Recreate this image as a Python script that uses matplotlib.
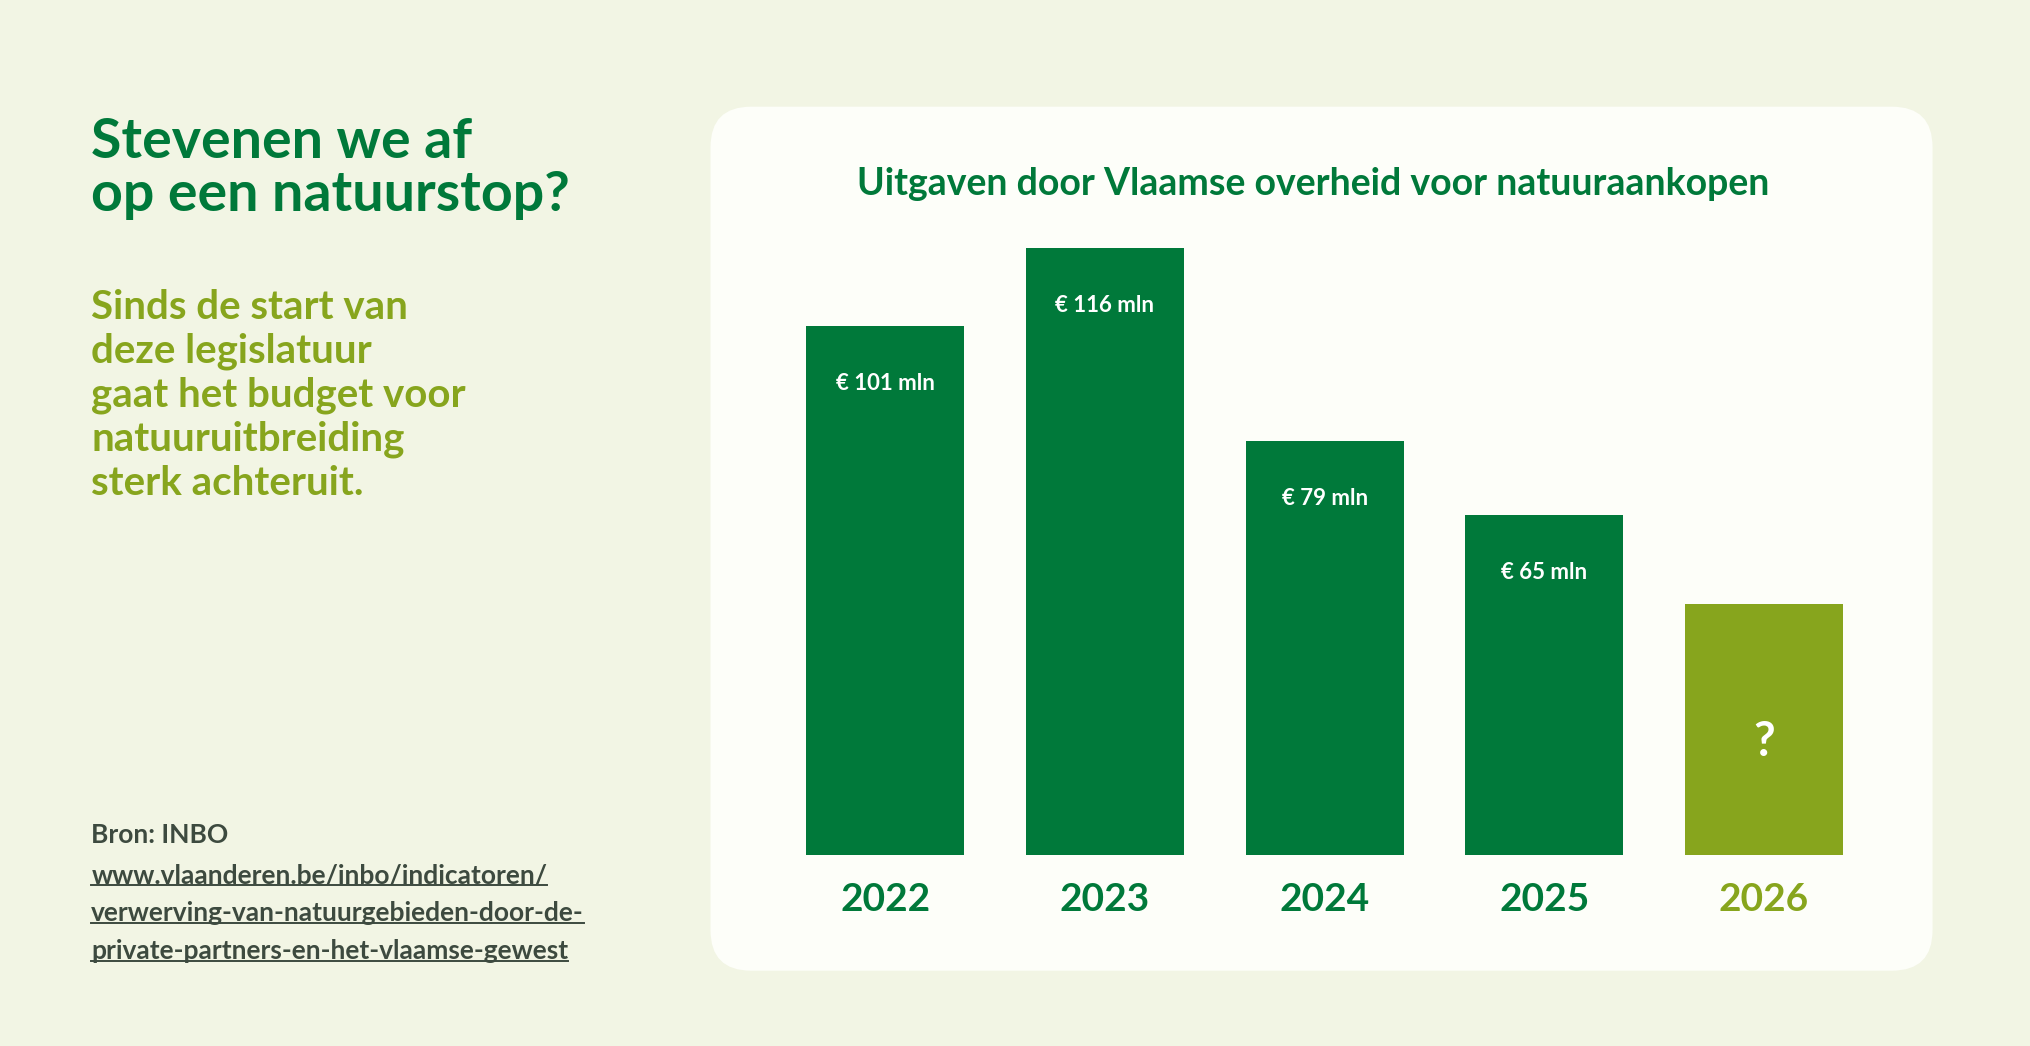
import matplotlib.pyplot as plt
from matplotlib.patches import FancyBboxPatch

plt.rcParams['font.family'] = ['Lato', 'DejaVu Sans']

years = ["2022", "2023", "2024", "2025", "2026"]
values = [101, 116, 79, 65, 48]
labels = ["€ 101 mln", "€ 116 mln", "€ 79 mln", "€ 65 mln", "?"]

BG = "#f2f5e4"
DARK = "#00793a"
LIME = "#87a51d"
TEXT_GREY = "#3d4a3f"

fig = plt.figure(figsize=(20.3, 10.46), dpi=100)
fig.patch.set_facecolor(BG)

# white rounded panel, behind the axes
panel = FancyBboxPatch((0.350, 0.072), 0.602, 0.826,
                       boxstyle="round,pad=0,rounding_size=0.02",
                       transform=fig.transFigure, facecolor="#fdfef9",
                       edgecolor="none", mutation_aspect=2030 / 1046, zorder=-5)
fig.patches.append(panel)

# left text
fig.text(0.045, 0.888, "Stevenen we af\nop een natuurstop?", color=DARK,
         fontsize=40, fontweight="bold", va="top", linespacing=1.08)
fig.text(0.045, 0.724, "Sinds de start van\ndeze legislatuur\ngaat het budget voor\nnatuuruitbreiding\nsterk achteruit.",
         color=LIME, fontsize=29, fontweight="bold", va="top", linespacing=1.22)
fig.text(0.045, 0.202, "Bron: INBO", color=TEXT_GREY, fontsize=19,
         fontweight="bold", va="center")
links = ["www.vlaanderen.be/inbo/indicatoren/",
         "verwerving-van-natuurgebieden-door-de-",
         "private-partners-en-het-vlaamse-gewest"]
link_texts = []
for i, ln in enumerate(links):
    t = fig.text(0.045, 0.163 - i * 0.036, ln, color=TEXT_GREY, fontsize=19,
                 fontweight="bold", va="center")
    link_texts.append(t)

fig.text(0.647, 0.824, "Uitgaven door Vlaamse overheid voor natuuraankopen",
         color=DARK, fontsize=27, fontweight="bold", ha="center", va="center")

ax = fig.add_axes([0.382, 0.183, 0.541, 0.600])
ax.set_facecolor("none")
colors = [DARK] * 4 + [LIME]
x = range(len(years))
ax.bar(x, values, width=0.72, color=colors)
ax.set_xlim(-0.5, 4.5)
ax.set_ylim(0, 120)
for xi, v, lab in zip(x, values, labels):
    if lab == "?":
        ax.text(xi, v * 0.45, lab, color="white", fontsize=34, fontweight="bold",
                ha="center", va="center")
    else:
        ax.text(xi, v - 11, lab, color="white", fontsize=16, fontweight="bold",
                ha="center", va="center")
for xi, yr, c in zip(x, years, colors):
    ax.text(xi, -8.5, yr, color=c, fontsize=28, fontweight="bold",
            ha="center", va="center")
ax.axis("off")

# underline the links using their rendered width
fig.canvas.draw()
inv = fig.transFigure.inverted()
for t in link_texts:
    bb = t.get_window_extent().transformed(inv)
    fig.add_artist(plt.Line2D([bb.x0, bb.x1], [bb.y0 + 0.002] * 2,
                              color=TEXT_GREY, lw=1.4))

fig.savefig("out.png", dpi=100, facecolor=BG)
